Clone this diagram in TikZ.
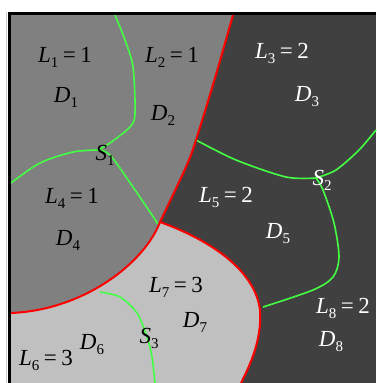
\documentclass[tikz,border=0pt]{standalone}
\usepackage{fontspec}
\setmainfont{Liberation Serif}
\definecolor{dk}{HTML}{404040}
\definecolor{md}{HTML}{808080}
\definecolor{lt}{HTML}{C0C0C0}
\definecolor{gr}{HTML}{44FF44}
\newcommand{\sbs}[1]{\raisebox{-0.22em}{\fontsize{15}{15}\selectfont #1}}
\newcommand{\eqs}{\hspace{0.2em}=\hspace{0.2em}}
\begin{document}
\begin{tikzpicture}[x=1pt,y=-1pt,
  lab/.style={font=\fontsize{23}{23}\selectfont, inner sep=0pt},
  wl/.style={lab,text=white},
  redl/.style={red,line width=2pt},
  grl/.style={gr,line width=1.6pt}]
\useasboundingbox (0,0) rectangle (376,383);
% background regions
\fill[dk] (11,15) rectangle (376,383);
\fill[lt] (11,222) -- (160,222)
  .. controls (210,240) and (255,270) .. (260,310)
  .. controls (262,340) and (250,365) .. (241,383)
  -- (11,383) -- cycle;
\fill[md] (11,15) -- (233,15)
  -- plot[smooth] coordinates {(233,15) (215,78) (196,140) (186,167) (160,222)}
  .. controls (145,262) and (85,310) .. (11,313)
  -- cycle;
% green curves
\coordinate (j1) at (98,150);
\coordinate (j2) at (316,178);
\draw[grl] plot[smooth] coordinates {(115,15) (125,40) (133,67) (135,113) (130,127) (110,143) (98,150)};
\draw[grl] plot[smooth] coordinates {(98,150) (73,152) (40,163) (11,183)};
\draw[grl] plot[smooth] coordinates {(98,150) (110,155) (133,187) (158,224)};
\draw[grl] plot[smooth] coordinates {(196,140) (236,160) (286,177) (316,178)};
\draw[grl] plot[smooth] coordinates {(316,178) (336,170) (359,150) (376,130)};
\draw[grl] plot[smooth] coordinates {(316,178) (323,190) (334,223) (339,257) (333,277) (313,290) (263,307)};
\draw[grl] plot[smooth] coordinates {(100,292) (120,297) (137,313) (147,337) (152,357) (155,383)};
% red curves
\draw[redl] plot[smooth] coordinates {(233,15) (215,78) (196,140) (186,167) (160,222)};
\draw[redl] (160,222) .. controls (145,262) and (85,310) .. (11,313);
\draw[redl] (160,222) .. controls (210,240) and (255,270) .. (260,310)
  .. controls (262,340) and (250,365) .. (241,383);
% border
\draw[gray!40, line width=1pt] (6.5,12) -- (6.5,383);
\draw[black, line width=3pt] (9.5,383) -- (9.5,13.5) -- (376,13.5);
% labels
\node[lab] (l1) at (65,57) {\textit{L}\sbs{1}\eqs 1};
\node[lab] (d1) at (66,97) {\textit{D}\sbs{1}};
\node[lab] (l2) at (172,57) {\textit{L}\sbs{2}\eqs 1};
\node[lab] (d2) at (163,115) {\textit{D}\sbs{2}};
\node[wl] (l3) at (282,53) {\textit{L}\sbs{3}\eqs 2};
\node[wl] (d3) at (307,97) {\textit{D}\sbs{3}};
\node[lab] (s1) at (105,155) {\textit{S}\sbs{1}};
\node[wl] (s2) at (322,180) {\textit{S}\sbs{2}};
\node[lab] (l4) at (72,198) {\textit{L}\sbs{4}\eqs 1};
\node[lab] (d4) at (68,240) {\textit{D}\sbs{4}};
\node[wl] (l5) at (226,197) {\textit{L}\sbs{5}\eqs 2};
\node[wl] (d5) at (278,234) {\textit{D}\sbs{5}};
\node[lab] (l7) at (176,287) {\textit{L}\sbs{7}\eqs 3};
\node[lab] (d7) at (195,322) {\textit{D}\sbs{7}};
\node[lab] (l6) at (46,360) {\textit{L}\sbs{6}\eqs 3};
\node[lab] (d6) at (92,345) {\textit{D}\sbs{6}};
\node[lab] (s3) at (149,338) {\textit{S}\sbs{3}};
\node[wl] (l8) at (343,308) {\textit{L}\sbs{8}\eqs 2};
\node[wl] (d8) at (331,342) {\textit{D}\sbs{8}};
\end{tikzpicture}
\end{document}
